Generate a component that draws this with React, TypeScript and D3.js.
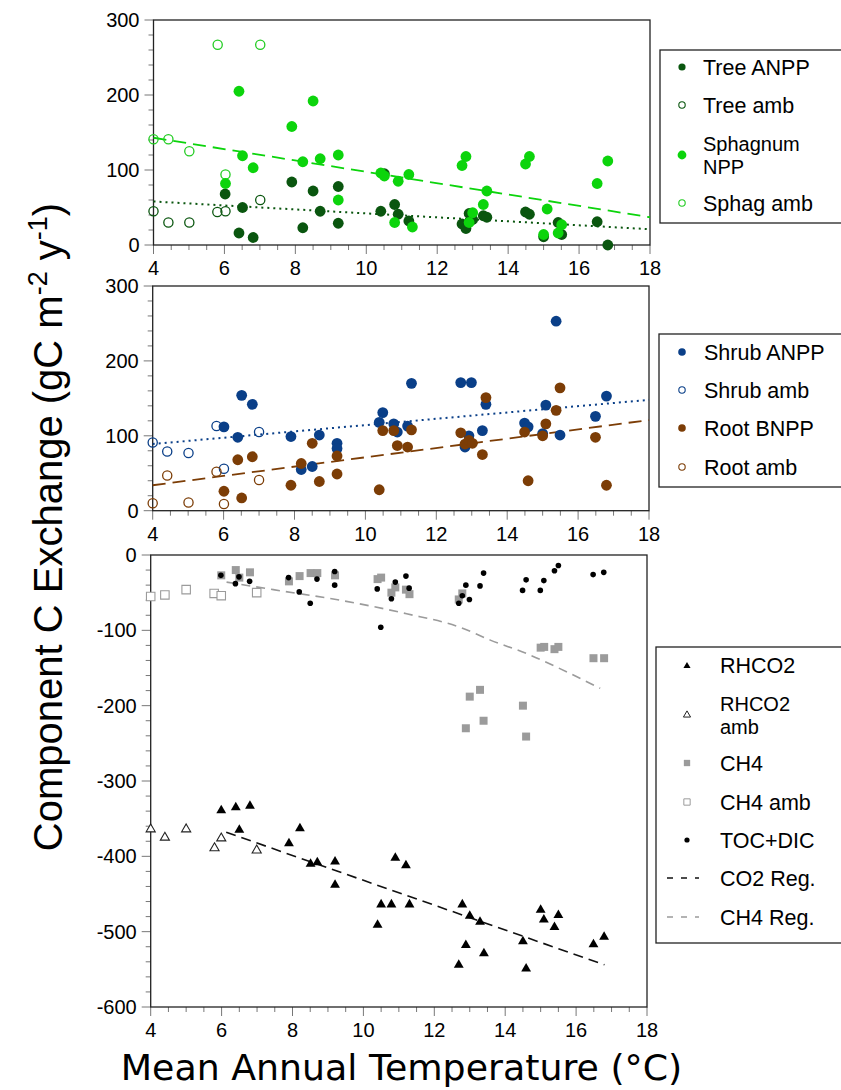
import React from 'react';
import * as d3 from 'd3';

type P = [number, number];

// ---- top panel: tree / sphagnum (gC m-2 y-1)
const treeAnpp: P[] = [
  [6.02, 68], [6.51, 50], [6.41, 16], [6.81, 10], [7.9, 84], [8.21, 23], [8.5, 72], [8.7, 45],
  [9.21, 78], [9.21, 29], [10.41, 45], [10.51, 95], [10.8, 54], [10.9, 41], [11.2, 32],
  [12.7, 28], [12.81, 22], [12.9, 42], [13.0, 34], [13.3, 39], [13.4, 37], [14.49, 44],
  [14.6, 41], [15.0, 11], [15.41, 30], [15.51, 14], [16.51, 31], [16.81, 0],
];
const treeAmb: P[] = [[4.0, 45], [4.42, 30], [5.01, 30], [5.8, 44], [6.03, 45], [7.01, 60]];
const sphagNpp: P[] = [
  [6.41, 205], [8.5, 192], [7.9, 158], [6.51, 119], [6.81, 103], [6.03, 82], [8.21, 111],
  [8.7, 115], [9.21, 120], [9.21, 60], [10.41, 96], [10.51, 92], [10.9, 85], [11.2, 94],
  [10.8, 30], [11.3, 24], [12.7, 106], [12.81, 118], [13.4, 72], [13.3, 54], [13.0, 43],
  [12.9, 30], [14.49, 108], [14.6, 118], [15.1, 48], [15.0, 14], [15.41, 16], [15.51, 27],
  [16.51, 82], [16.81, 112],
];
const sphagAmb: P[] = [[5.81, 267], [7.01, 267], [4.0, 141], [4.42, 141], [5.01, 125], [6.03, 94]];
const sphagReg: P[] = [[4, 143], [18, 37]];
const treeReg: P[] = [[4, 58], [18, 21]];

// ---- middle panel: shrub / root
const shrubAnpp: P[] = [
  [6.01, 112], [6.4, 98], [6.51, 154], [6.81, 142], [7.9, 99], [8.19, 55], [8.5, 59], [8.7, 101],
  [9.2, 90], [9.2, 83], [10.39, 118], [10.49, 131], [10.8, 116], [10.9, 105], [11.19, 113],
  [11.3, 170], [12.69, 171], [12.99, 171], [12.81, 85], [12.92, 100], [13.3, 107], [13.4, 142],
  [14.49, 117], [14.59, 112], [15.0, 103], [15.09, 141], [15.38, 253], [15.49, 101],
  [16.49, 126], [16.8, 153],
];
const shrubAmb: P[] = [[4.0, 91], [4.41, 79], [5.01, 77], [5.8, 113], [6.01, 56], [7.0, 105]];
const rootBnpp: P[] = [
  [6.01, 26], [6.4, 68], [6.51, 17], [6.81, 72], [7.9, 34], [8.19, 63], [8.5, 90], [8.7, 39],
  [9.2, 73], [9.2, 49], [10.39, 28], [10.49, 107], [10.8, 107], [10.9, 87], [11.19, 85],
  [11.3, 108], [12.69, 104], [12.81, 89], [12.92, 94], [13.02, 90], [13.3, 75], [13.4, 151],
  [14.49, 105], [14.59, 40], [15.0, 100], [15.09, 116], [15.38, 134], [15.49, 164],
  [16.49, 98], [16.8, 34],
];
const rootAmb: P[] = [[4.0, 10], [4.41, 47], [5.01, 11], [5.8, 52], [6.01, 9], [7.0, 41]];
const shrubReg: P[] = [[4, 89], [18, 148]];
const rootReg: P[] = [[4, 34], [18, 121]];

// ---- bottom panel: losses
const rhco2: P[] = [
  [5.99, -339], [6.4, -335], [6.8, -333], [6.5, -365], [7.9, -383], [8.21, -363], [8.51, -410],
  [8.7, -408], [9.2, -407], [9.2, -438], [10.4, -491], [10.5, -464], [10.79, -464], [10.9, -402],
  [11.2, -412], [11.3, -464], [12.79, -464], [13.0, -479], [13.29, -487], [12.89, -518],
  [12.69, -544], [13.4, -529], [14.5, -513], [14.59, -549], [15.0, -471], [15.09, -484],
  [15.39, -494], [15.5, -478], [16.49, -517], [16.79, -507],
];
const rhco2Amb: P[] = [[4.0, -364], [4.4, -375], [5.0, -364], [5.8, -389], [5.99, -376], [6.99, -392]];
const ch4: P[] = [
  [5.99, -27], [6.4, -20], [6.5, -30], [6.8, -23], [7.9, -35], [8.2, -28], [8.51, -24], [8.7, -24],
  [9.2, -27], [10.4, -32], [10.5, -30], [10.79, -50], [10.9, -43], [11.2, -46], [11.3, -52],
  [12.69, -59], [12.79, -51], [13.0, -188], [13.29, -179], [12.89, -230], [13.39, -220],
  [14.5, -200], [14.59, -241], [15.0, -123], [15.1, -122], [15.39, -125], [15.5, -122],
  [16.49, -137], [16.79, -137],
];
const ch4Amb: P[] = [[4.0, -55], [4.4, -53], [5.0, -46], [5.79, -51], [5.99, -54], [6.99, -50]];
const tocDic: P[] = [
  [5.98, -27], [6.39, -38], [6.49, -29], [6.79, -35], [7.89, -30], [8.19, -49], [8.5, -64],
  [8.69, -32], [9.19, -22], [9.19, -40], [10.39, -45], [10.49, -96], [10.79, -58], [10.9, -36],
  [11.2, -28], [11.29, -44], [12.69, -64], [12.79, -54], [12.89, -40], [12.99, -59], [13.29, -41],
  [13.39, -24], [14.49, -47], [14.59, -33], [14.99, -47], [15.09, -34], [15.39, -21], [15.5, -14],
  [16.48, -26], [16.78, -23],
];
const co2Reg: P[] = [[6.13, -368], [16.8, -544]];
const ch4Reg: P[] = [
  [6.14, -36], [7.46, -46], [9.34, -60], [11.22, -78], [12.73, -96], [13.58, -113],
  [14.61, -131], [15.46, -149], [16.68, -177],
];

const xTicks = [4, 6, 8, 10, 12, 14, 16, 18];
const upperYTicks = [0, 100, 200, 300];
const lowerYTicks = [0, -100, -200, -300, -400, -500, -600];

const FONT = "'Liberation Sans', Arial, Helvetica, sans-serif";
const C = {
  tree: '#0a560f', sphag: '#0cd40c', sphagAmb: '#22cc22',
  shrub: '#0a3f88', root: '#7c3d06', gray: '#9b9b9b', ink: '#222',
};

type Sc = d3.ScaleLinear<number, number>;

function Frame({ x, y, yTicks, minorStep }: { x: Sc; y: Sc; yTicks: number[]; minorStep: number }) {
  const [x0, x1] = x.range();
  const [yb, yt] = y.range();
  const [d0, d1] = y.domain();
  const xMinor = d3.range(4, 18.001, 0.5);
  const yMinor = d3.range(Math.min(d0, d1), Math.max(d0, d1) + 0.001, minorStep);
  return (
    <g>
      {xMinor.map(t => {
        const major = t % 2 === 0;
        return <line key={'xm' + t} x1={x(t)} x2={x(t)} y1={yb} y2={yb + (major ? 9 : 5)} stroke="#777" strokeWidth={1} />;
      })}
      {yMinor.map(v => {
        const major = v % 100 === 0;
        return <line key={'ym' + v} x1={x0 - (major ? 9 : 5)} x2={x0} y1={y(v)} y2={y(v)} stroke="#777" strokeWidth={1} />;
      })}
      <rect x={x0} y={yt} width={x1 - x0} height={yb - yt} fill="none" stroke={C.ink} strokeWidth={1.3} />
      {xTicks.map(t => (
        <text key={'xl' + t} x={x(t)} y={yb + 23} dy="0.35em" textAnchor="middle" fontSize={20} fontFamily={FONT}>{t}</text>
      ))}
      {yTicks.map(v => (
        <text key={'yl' + v} x={x0 - 14} y={y(v)} dy="0.35em" textAnchor="end" fontSize={20} fontFamily={FONT}>{v}</text>
      ))}
    </g>
  );
}

const Dots = ({ data, x, y, r, fill, stroke }: { data: P[]; x: Sc; y: Sc; r: number; fill: string; stroke?: string }) => (
  <g>
    {data.map((d, i) => (
      <circle key={i} cx={x(d[0])} cy={y(d[1])} r={r} fill={fill} stroke={stroke || 'none'} strokeWidth={stroke ? 1.3 : 0} />
    ))}
  </g>
);

const Syms = ({ data, x, y, type, size, fill, stroke }: { data: P[]; x: Sc; y: Sc; type: d3.SymbolType; size: number; fill: string; stroke?: string }) => {
  const path = d3.symbol(type, size)() as string;
  return (
    <g>
      {data.map((d, i) => (
        <path key={i} d={path} transform={`translate(${x(d[0])},${y(d[1])})`} fill={fill} stroke={stroke || 'none'} strokeWidth={1.1} />
      ))}
    </g>
  );
};

const Reg = ({ data, x, y, stroke, dash, width = 1.6, curve = false }: { data: P[]; x: Sc; y: Sc; stroke: string; dash: string; width?: number; curve?: boolean }) => {
  const line = d3.line<P>().x(d => x(d[0])).y(d => y(d[1]));
  if (curve) line.curve(d3.curveMonotoneX);
  return <path d={line(data) as string} fill="none" stroke={stroke} strokeWidth={width} strokeDasharray={dash} />;
};

// single-line legend entry
const LegText = ({ x, y, label }: { x: number; y: number; label: string }) => (
  <text x={x} y={y} dy="0.35em" fontSize={21.5} fontFamily={FONT}>{label}</text>
);

// two-line legend entry, slightly smaller so the lines do not collide
const LegText2 = ({ x, y, lines }: { x: number; y: number; lines: string[] }) => (
  <g fontSize={20} fontFamily={FONT}>
    <text x={x} y={y - 11.5} dy="0.35em">{lines[0]}</text>
    <text x={x} y={y + 11.5} dy="0.35em">{lines[1]}</text>
  </g>
);

export default function App() {
  const xTop = d3.scaleLinear().domain([4, 18]).range([153.5, 650]);
  const yTop = d3.scaleLinear().domain([0, 300]).range([245, 20]);
  const xMid = d3.scaleLinear().domain([4, 18]).range([152.7, 649]);
  const yMid = d3.scaleLinear().domain([0, 300]).range([510.7, 286]);
  const xBot = d3.scaleLinear().domain([4, 18]).range([150.7, 647]);
  const yBot = d3.scaleLinear().domain([-600, 0]).range([1007, 555]);

  const tri = d3.symbol(d3.symbolTriangle, 22)() as string;
  const sq = d3.symbol(d3.symbolSquare, 40)() as string;

  return (
    <svg width={841} height={1090} style={{ position: 'absolute', left: 0, top: 0, background: '#fff' }}>
      {/* top panel */}
      <Frame x={xTop} y={yTop} yTicks={upperYTicks} minorStep={20} />
      <Reg data={treeReg} x={xTop} y={yTop} stroke={C.tree} dash="2,4" width={2} />
      <Reg data={sphagReg} x={xTop} y={yTop} stroke={C.sphag} dash="13,7" width={1.8} />
      <Dots data={treeAmb} x={xTop} y={yTop} r={4.6} fill="none" stroke={C.tree} />
      <Dots data={sphagAmb} x={xTop} y={yTop} r={4.6} fill="none" stroke={C.sphagAmb} />
      <Dots data={treeAnpp} x={xTop} y={yTop} r={5.4} fill={C.tree} />
      <Dots data={sphagNpp} x={xTop} y={yTop} r={5.4} fill={C.sphag} />

      {/* middle panel */}
      <Frame x={xMid} y={yMid} yTicks={upperYTicks} minorStep={20} />
      <Reg data={shrubReg} x={xMid} y={yMid} stroke={C.shrub} dash="2,4" width={2} />
      <Reg data={rootReg} x={xMid} y={yMid} stroke={C.root} dash="13,7" width={1.8} />
      <Dots data={shrubAmb} x={xMid} y={yMid} r={4.6} fill="none" stroke={C.shrub} />
      <Dots data={rootAmb} x={xMid} y={yMid} r={4.6} fill="none" stroke={C.root} />
      <Dots data={shrubAnpp} x={xMid} y={yMid} r={5.4} fill={C.shrub} />
      <Dots data={rootBnpp} x={xMid} y={yMid} r={5.4} fill={C.root} />

      {/* bottom panel */}
      <Frame x={xBot} y={yBot} yTicks={lowerYTicks} minorStep={20} />
      <Reg data={ch4Reg} x={xBot} y={yBot} stroke={C.gray} dash="9,6" width={1.6} curve />
      <Reg data={co2Reg} x={xBot} y={yBot} stroke="#111" dash="10,6" width={1.6} />
      <Syms data={ch4Amb} x={xBot} y={yBot} type={d3.symbolSquare} size={72} fill="#fff" stroke={C.gray} />
      <Syms data={ch4} x={xBot} y={yBot} type={d3.symbolSquare} size={64} fill={C.gray} />
      <Syms data={rhco2Amb} x={xBot} y={yBot} type={d3.symbolTriangle} size={36} fill="#fff" stroke="#222" />
      <Syms data={rhco2} x={xBot} y={yBot} type={d3.symbolTriangle} size={42} fill="#000" />
      <Dots data={tocDic} x={xBot} y={yBot} r={2.8} fill="#000" />

      {/* legend: top */}
      <rect x={660} y={50} width={190} height={173} fill="#fff" stroke={C.ink} strokeWidth={1.3} />
      <circle cx={682} cy={67} r={3.6} fill={C.tree} />
      <LegText x={703} y={67} label="Tree ANPP" />
      <circle cx={682} cy={105} r={3.2} fill="none" stroke={C.tree} strokeWidth={1.1} />
      <LegText x={703} y={105} label="Tree amb" />
      <circle cx={682} cy={155} r={4.4} fill={C.sphag} />
      <LegText2 x={703} y={155} lines={['Sphagnum', 'NPP']} />
      <circle cx={682} cy={203} r={3.2} fill="none" stroke={C.sphagAmb} strokeWidth={1.1} />
      <LegText x={703} y={203} label="Sphag amb" />

      {/* legend: middle */}
      <rect x={659} y={334} width={190} height={153} fill="#fff" stroke={C.ink} strokeWidth={1.3} />
      <circle cx={682} cy={352} r={3.8} fill={C.shrub} />
      <LegText x={704} y={352} label="Shrub ANPP" />
      <circle cx={682} cy={390} r={3.2} fill="none" stroke={C.shrub} strokeWidth={1.1} />
      <LegText x={704} y={390} label="Shrub amb" />
      <circle cx={682} cy={428} r={3.8} fill={C.root} />
      <LegText x={704} y={428} label="Root BNPP" />
      <circle cx={682} cy={467} r={3.2} fill="none" stroke={C.root} strokeWidth={1.1} />
      <LegText x={704} y={467} label="Root amb" />

      {/* legend: bottom */}
      <rect x={656} y={647} width={190} height={296} fill="#fff" stroke={C.ink} strokeWidth={1.3} />
      <path d={tri} transform="translate(687,666)" fill="#000" />
      <LegText x={720} y={665} label="RHCO2" />
      <path d={tri} transform="translate(687,715)" fill="#fff" stroke="#222" strokeWidth={1} />
      <LegText2 x={720} y={715} lines={['RHCO2', 'amb']} />
      <path d={sq} transform="translate(687,763)" fill={C.gray} />
      <LegText x={720} y={763} label="CH4" />
      <path d={sq} transform="translate(687,802)" fill="#fff" stroke={C.gray} strokeWidth={1} />
      <LegText x={720} y={802} label="CH4 amb" />
      <circle cx={687} cy={840} r={2.6} fill="#000" />
      <LegText x={720} y={840} label="TOC+DIC" />
      <line x1={667} x2={699} y1={878} y2={878} stroke="#111" strokeWidth={1.6} strokeDasharray="6,8" />
      <LegText x={720} y={878} label="CO2 Reg." />
      <line x1={667} x2={699} y1={917} y2={917} stroke={C.gray} strokeWidth={1.6} strokeDasharray="6,8" />
      <LegText x={720} y={917} label="CH4 Reg." />

      {/* axis titles */}
      <text transform="translate(62,527) rotate(-90)" textAnchor="middle" fontSize={40} fontFamily={FONT}>
        Component C Exchange (gC m<tspan fontSize={27} dy={-15}>-2</tspan>
        <tspan dy={15}> y</tspan><tspan fontSize={27} dy={-15}>-1</tspan><tspan dy={15}>)</tspan>
      </text>
      <text x={401.5} y={1080} textAnchor="middle" fontSize={36.3} fontFamily="'DejaVu Sans', sans-serif">
        Mean Annual Temperature (°C)
      </text>
    </svg>
  );
}
